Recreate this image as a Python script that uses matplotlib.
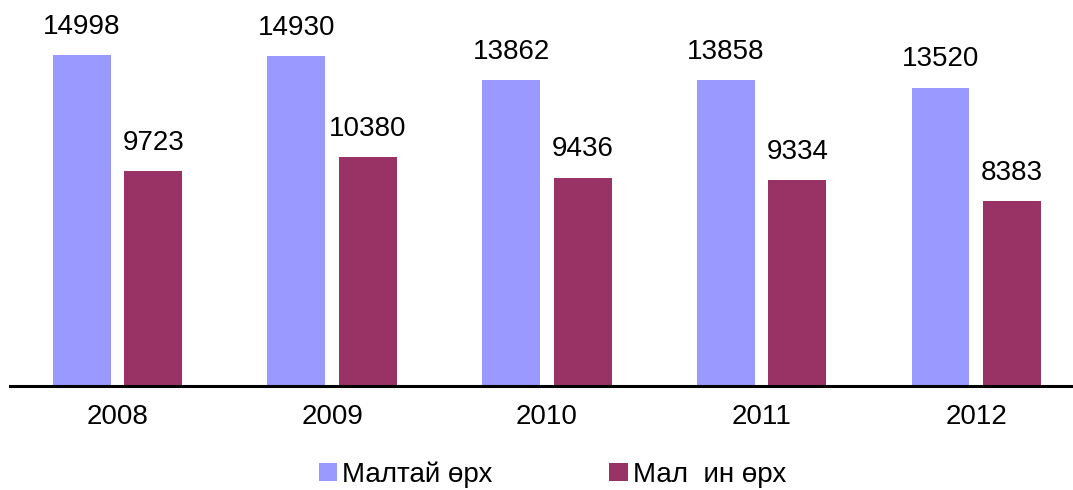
import numpy as np
import matplotlib.pyplot as plt

years = ['2008', '2009', '2010', '2011', '2012']
maltai = [14998, 14930, 13862, 13858, 13520]
malchin = [9723, 10380, 9436, 9334, 8383]
names = ['Малтай өрх', 'Мал  ин өрх']

plt.rcParams['font.family'] = ['Liberation Sans', 'DejaVu Sans']

fig = plt.figure(figsize=(10.73, 4.9), dpi=100)
ax = fig.add_axes([10 / 1073, 104 / 490, 1 - 10 / 1073, 386 / 490])

x = np.arange(len(years))
w = 0.27
b1 = ax.bar(x - 0.167, maltai, w, color='#9999FF', label=names[0])
b2 = ax.bar(x + 0.167, malchin, w, color='#993366', label=names[1])

for bars, vals in ((b1, maltai), (b2, malchin)):
    for r, v in zip(bars, vals):
        ax.annotate(str(v), (r.get_x() + r.get_width() / 2, v),
                    xytext=(0, 11), textcoords='offset points',
                    ha='center', va='bottom', fontsize=20)

ax.set_xlim(-0.5, 4.45)
ax.set_ylim(0, 17490)
ax.set_xticks(x)
ax.set_xticklabels(years, fontsize=20)
ax.tick_params(axis='x', length=0, pad=13)
ax.set_yticks([])
for s in ['top', 'right', 'left']:
    ax.spines[s].set_visible(False)
ax.spines['bottom'].set_linewidth(2.2)

fig.legend(loc='center', bbox_to_anchor=(0.515, 0.032), ncol=2, frameon=False,
           fontsize=20, handlelength=0.65, handleheight=0.65,
           handletextpad=0.2, columnspacing=4.2)

fig.savefig('out.png', dpi=100)
